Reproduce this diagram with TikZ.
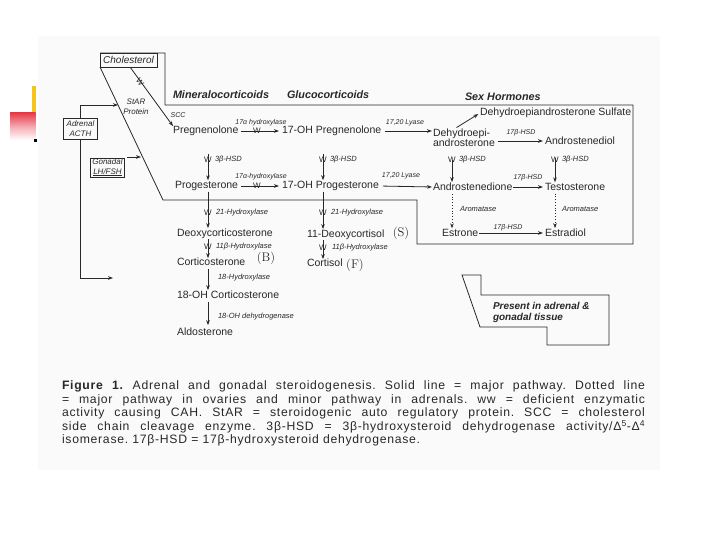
\documentclass[tikz,border=0pt]{standalone}
\usepackage{fontspec}
\setmainfont{Liberation Sans}
\newfontfamily\capfont[LetterSpace=6]{Liberation Sans}
\usetikzlibrary{arrows.meta}
\definecolor{barY}{RGB}{246,196,30}
\definecolor{redTop}{RGB}{228,62,74}
\definecolor{redMid}{RGB}{244,170,178}
\definecolor{ink}{RGB}{40,40,40}
\frenchspacing
\begin{document}
\begin{tikzpicture}[x=1pt,y=-1pt,
  every node/.style={inner sep=0pt, outer sep=0pt, text=ink},
  cmp/.style={anchor=west, font=\fontsize{10.5}{10}\selectfont},
  lab/.style={anchor=west, font=\fontsize{7.5}{8}\selectfont\itshape},
  smlab/.style={anchor=center, font=\fontsize{7}{8}\selectfont\itshape},
  head/.style={anchor=west, font=\fontsize{10.8}{11}\selectfont\bfseries\itshape},
  wmark/.style={font=\fontsize{8}{8}\selectfont},
  letter/.style={font=\fontsize{12.5}{12}\fontfamily{lmr}\selectfont},
  arr/.style={draw=ink, -{Stealth[length=5pt,width=3.6pt]}, line width=0.8pt},
  dotarr/.style={arr, dotted},
  frameline/.style={draw=ink, line width=0.8pt},
  sidebox/.style={draw=ink, line width=0.6pt, align=center, font=\fontsize{8}{9.5}\selectfont\itshape},
  caption/.style={anchor=west, font=\fontsize{12.2}{14}\capfont}
]
\useasboundingbox (0,0) rectangle (720,540);
\fill[white] (0,0) rectangle (720,540);
\fill[gray!4] (38,36) rectangle (660,470);

% left decoration
\fill[barY] (32,86) rectangle (35.5,113);
\shade[top color=redTop, bottom color=white, middle color=redMid] (10,113) rectangle (35.5,140);
\fill[black] (34,139.5) rectangle (36.5,142);

% column coordinates
\coordinate (c1) at (208,0);
\coordinate (c2) at (323,0);
\coordinate (c3) at (452,0);
\coordinate (c4) at (555,0);

% frame of the adrenal/gonadal region
\node[draw=ink, line width=0.7pt, minimum width=57pt, minimum height=14pt, font=\fontsize{10}{10}\selectfont\itshape] (chol) at (128.5,60) {Cholesterol};
\draw[frameline] (chol.south west) -- (163,200) -- (417,200) -- (417,244) -- (633,244) -- (633,105) -- (165,105) -- (165,53) -- (chol.north west);

% headings
\node[head] (hmin) at (173,95) {Mineralocorticoids};
\node[head] (hglu) at (287,95) {Glucocorticoids};
\node[head] (hsex) at (465,97) {Sex Hormones};

% compounds
\node[cmp] (preg) at (173,131) {Pregnenolone};
\node[cmp] (ohpreg) at (282,131) {17-OH Pregnenolone};
\node[cmp, align=left, font=\fontsize{10.5}{10}\selectfont] (dhea) at (433,138) {Dehydroepi-\\androsterone};
\node[cmp] (dheas) at (480,113) {Dehydroepiandrosterone Sulfate};
\node[cmp] (adiol) at (545,141) {Androstenediol};
\node[cmp] (prog) at (175,186) {Progesterone};
\node[cmp] (ohprog) at (282,186) {17-OH Progesterone};
\node[cmp] (adione) at (433,187) {Androstenedione};
\node[cmp] (testo) at (545,187) {Testosterone};
\node[cmp] (doc) at (177,234) {Deoxycorticosterone};
\node[cmp] (cortico) at (177,262) {Corticosterone};
\node[cmp] (ohcort) at (177,295) {18-OH Corticosterone};
\node[cmp] (aldo) at (177,332) {Aldosterone};
\node[cmp] (dcortisol) at (307,235) {11-Deoxycortisol};
\node[cmp] (cortisol) at (307,263) {Cortisol};
\node[cmp] (estrone) at (442,233) {Estrone};
\node[cmp] (estradiol) at (545,233) {Estradiol};
\node[letter] (lS) at (401,233) {(S)};
\node[letter] (lB) at (266,258) {(B)};
\node[letter] (lF) at (355,265) {(F)};

% side boxes
\node[sidebox, minimum width=34pt, minimum height=21pt] (adr) at (80.5,128.5) {Adrenal\\ACTH};
\node[sidebox, minimum width=34pt, minimum height=19pt] (gon) at (107.5,167.5) {Gonadal\\\underline{LH/FSH}};
\coordinate (adrTop) at (80.5,105);
\coordinate (adrEnd) at (118,105);
\coordinate (adrLow) at (80.5,278);
\coordinate (adrLowEnd) at (113,278);
\coordinate (gonStart) at (127,157);
\coordinate (gonEnd) at (141,157);
\draw[arr] (adr.north) -- (adrTop) -- (adrEnd);
\draw[arr] (adr.south) -- (adrLow) -- (adrLowEnd);
\draw[arr] (gonStart) -- (gonEnd);

% cholesterol -> pregnenolone
\coordinate (cholOut) at (130,67);
\draw[arr] (cholOut) -- (preg.north west);
\node[wmark, rotate=-55] (w0) at (140,82) {W};
\node[anchor=center, font=\fontsize{8}{9.5}\selectfont\itshape, align=center] (star) at (136,106.5) {StAR\\Protein};
\node[smlab] (scc) at (178,115) {SCC};

% horizontal reactions
\draw[arr, shorten <=3pt, shorten >=3pt] (preg.east) -- (ohpreg.west);
\node[wmark] (w1) at (257,131) {W};
\node[smlab] (l1) at (261,123) {17α hydroxylase};
\draw[arr, shorten <=4pt, shorten >=1pt] (ohpreg.east) -- (ohpreg.east -| dhea.west);
\node[smlab] (l2) at (405,122.5) {17,20 Lyase};
\draw[arr, shorten <=3pt, shorten >=3pt] (prog.east) -- (ohprog.west);
\node[wmark] (w2) at (257,186) {W};
\node[smlab] (l3) at (261,176.5) {17α-hydroxylase};
\draw[arr, shorten <=4pt, shorten >=1pt] (ohprog.east) -- (adione.west);
\node[smlab] (l4) at (401,176) {17,20 Lyase};
\draw[arr, shorten <=3pt, shorten >=2pt] ([xshift=-10pt]dhea.north) -- (dheas.west);
\draw[arr, shorten <=3pt, shorten >=2pt] (dhea.east |- adiol.west) -- (adiol.west);
\node[smlab] (l5) at (521,133) {17β-HSD};
\draw[arr, shorten <=1pt, shorten >=2pt] (adione.east) -- (testo.west);
\node[smlab] (l6) at (528,177.5) {17β-HSD};
\draw[arr, shorten <=1pt, shorten >=2pt] (estrone.east) -- (estradiol.west);
\node[smlab] (l7) at (508,227.5) {17β-HSD};

% vertical reactions
\draw[arr, shorten <=18pt, shorten >=1pt] (preg.south -| c1) -- (prog.north -| c1);
\node[wmark] (w3) at (208,160) {W};
\node[lab] (l8) at (215,160) {3β-HSD};
\draw[arr, shorten <=18pt, shorten >=1pt] (ohpreg.south -| c2) -- (ohprog.north -| c2);
\node[wmark] (w4) at (323,160) {W};
\node[lab] (l9) at (330,160) {3β-HSD};
\draw[arr, shorten <=13pt, shorten >=1pt] (dhea.south -| c3) -- (adione.north -| c3);
\node[wmark] (w5) at (452,160) {W};
\node[lab] (l10) at (459,160) {3β-HSD};
\draw[arr, shorten <=13pt, shorten >=1pt] (adiol.south -| c4) -- (testo.north -| c4);
\node[wmark] (w6) at (555,160) {W};
\node[lab] (l11) at (562,160) {3β-HSD};

\draw[arr, shorten <=1pt, shorten >=1pt] (prog.south -| c1) -- (doc.north -| c1);
\node[wmark] (w7) at (208,213) {W};
\node[lab] (l12) at (216,213) {21-Hydroxylase};
\draw[arr, shorten <=1pt, shorten >=1pt] (ohprog.south -| c2) -- (dcortisol.north -| c2);
\node[wmark] (w8) at (323,213) {W};
\node[lab] (l13) at (331,213) {21-Hydroxylase};
\draw[arr] (doc.south -| c1) -- (cortico.north -| c1);
\node[wmark] (w9) at (208,247) {W};
\node[lab] (l14) at (216,247) {11β-Hydroxylase};
\draw[arr] (dcortisol.south -| c2) -- (cortisol.north -| c2);
\node[wmark] (w10) at (323,248) {W};
\node[lab] (l15) at (332,248) {11β-Hydroxylase};
\draw[arr, shorten <=3pt, shorten >=1pt] (cortico.south -| c1) -- (ohcort.north -| c1);
\node[lab] (l16) at (218,278) {18-Hydroxylase};
\draw[arr, shorten <=3pt, shorten >=3pt] (ohcort.south -| c1) -- (aldo.north -| c1);
\node[lab] (l17) at (218,317) {18-OH dehydrogenase};

\draw[dotarr, shorten <=3pt, shorten >=1pt] (adione.south -| c3) -- (estrone.north -| c3);
\node[lab] (l18) at (460,209) {Aromatase};
\draw[dotarr, shorten <=3pt, shorten >=1pt] (testo.south -| c4) -- (estradiol.north -| c4);
\node[lab] (l19) at (562,209) {Aromatase};

% legend
\draw[frameline] (462,275) -- (481,275) -- (481,295) -- (609,295) -- (609,345) -- (547,345) -- (547,327) -- (480,327) -- cycle;
\node[anchor=west, align=left, font=\fontsize{10}{11.5}\selectfont\bfseries\itshape] (leg) at (493,312.5) {Present in adrenal \&\\gonadal tissue};

% caption
\node[caption] (cap1) at (62,386) {\makebox[583pt][s]{\textbf{Figure 1.} Adrenal and gonadal steroidogenesis. Solid line = major pathway. Dotted line}};
\node[caption] (cap2) at (62,400) {\makebox[583pt][s]{= major pathway in ovaries and minor pathway in adrenals. ww = deficient enzymatic}};
\node[caption] (cap3) at (62,413.5) {\makebox[583pt][s]{activity causing CAH. StAR = steroidogenic auto regulatory protein. SCC = cholesterol}};
\node[caption] (cap4) at (62,427) {\makebox[583pt][s]{side chain cleavage enzyme. 3β-HSD = 3β-hydroxysteroid dehydrogenase activity/Δ\textsuperscript{5}-Δ\textsuperscript{4}}};
\node[caption] (cap5) at (62,440.5) {isomerase. 17β-HSD = 17β-hydroxysteroid dehydrogenase.};
\end{tikzpicture}
\end{document}
